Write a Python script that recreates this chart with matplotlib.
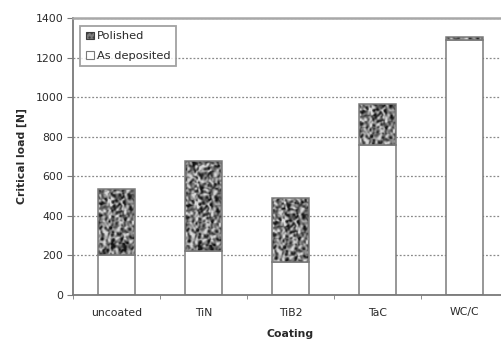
import numpy as np
import matplotlib
matplotlib.use("Agg")
import matplotlib.pyplot as plt
from matplotlib.patches import Patch

categories = ["uncoated", "TiN", "TiB2", "TaC", "WC/C"]
as_deposited = [200, 220, 165, 760, 1290]
polished_gain = [335, 455, 325, 205, 15]
y_ticks = [0, 200, 400, 600, 800, 1000, 1200, 1400]

plt.rcParams["font.family"] = ["DejaVu Sans"]

fig = plt.figure(figsize=(5.02, 3.40), dpi=100)
ax = fig.add_axes([73 / 502, 45 / 340, 435 / 502, 277 / 340])

x = list(range(len(categories)))
w = 0.42
txt = "#2a2a2a"
edge = "#7a7a7a"


def speckle(n_rows, n_cols):
    """Deterministic mottled grey texture (hash-style pseudo noise, lightly smoothed)."""
    j, i = np.meshgrid(np.arange(n_cols), np.arange(n_rows))
    v = np.sin(i * 12.9898 + j * 78.233) * 43758.5453
    v = v - np.floor(v)
    v = (np.roll(v, 1, 0) + 2 * v + np.roll(v, -1, 0)) / 4
    v = (np.roll(v, 1, 1) + 2 * v + np.roll(v, -1, 1)) / 4
    v = (v - v.mean()) / (v.std() + 1e-9)
    return np.clip(0.46 + 0.22 * v, 0.08, 0.85)


ax.set_axisbelow(True)
ax.yaxis.grid(True, linestyle=(0, (1.5, 1.5)), color="#8a8a8a", linewidth=0.9)

# lower segment: as deposited (white)
ax.bar(x, as_deposited, width=w, color="white", edgecolor=edge, linewidth=1.1, zorder=2)
# upper segment: polished (speckled grey texture clipped to each bar)
top = ax.bar(x, polished_gain, width=w, bottom=as_deposited, color="#7c7c7c",
             linewidth=0, zorder=2)
ax.set_xlim(-0.5, 4.5)
ax.set_ylim(0, 1400)
for k, rect in enumerate(top):
    x0, y0 = rect.get_x(), rect.get_y()
    x1, y1 = x0 + rect.get_width(), y0 + rect.get_height()
    rows = max(2, int(round(rect.get_height() * 0.198 / 1.2)))
    tex = speckle(rows + 5 * k + 2, 34)[5 * k + 1:5 * k + 1 + rows]
    im = ax.imshow(tex, extent=(x0, x1, y0, y1), cmap="gray", vmin=0, vmax=1,
                   aspect="auto", interpolation="bilinear", zorder=2.5, origin="lower")
    im.set_clip_path(rect)
ax.bar(x, polished_gain, width=w, bottom=as_deposited, color="none",
       edgecolor=edge, linewidth=1.1, zorder=3)

ax.set_xlim(-0.5, 4.5)
ax.set_ylim(0, 1400)
ax.set_yticks(y_ticks)
ax.set_xticks(x)
ax.set_xticklabels(categories)
ax.set_xticks([i + 0.5 for i in range(-1, 5)], minor=True)
ax.tick_params(axis="x", which="major", length=0, pad=9, labelsize=7.8, labelcolor=txt)
ax.tick_params(axis="x", which="minor", length=3, direction="out", color=edge)
ax.tick_params(axis="y", length=4, direction="out", color=edge, labelsize=7.8,
               labelcolor=txt, pad=3)

for s in ("left", "bottom"):
    ax.spines[s].set_color(edge)
    ax.spines[s].set_linewidth(1.3)
ax.spines["top"].set_color("#a8a8a8")
ax.spines["top"].set_linewidth(1.8)
ax.spines["right"].set_visible(False)

ax.set_xlabel("Coating", fontsize=7.8, fontweight="bold", color=txt, labelpad=8)
ax.set_ylabel("Critical load [N]", fontsize=7.8, fontweight="bold", color=txt, labelpad=6)

handles = [
    Patch(facecolor="#7c7c7c", edgecolor="#3d3d3d", hatch="....", linewidth=0.8, label="Polished"),
    Patch(facecolor="white", edgecolor=edge, linewidth=0.8, label="As deposited"),
]
leg = ax.legend(handles=handles, loc="upper left", bbox_to_anchor=(0.012, 0.978),
                fontsize=8.2, frameon=True, fancybox=False, handlelength=0.7,
                handleheight=0.7, handletextpad=0.3, borderpad=0.45, labelspacing=0.85,
                borderaxespad=0.2)
leg.get_frame().set_edgecolor("#8a8a8a")
leg.get_frame().set_linewidth(1.3)
for t in leg.get_texts():
    t.set_color(txt)

fig.savefig("out.png", dpi=100)
